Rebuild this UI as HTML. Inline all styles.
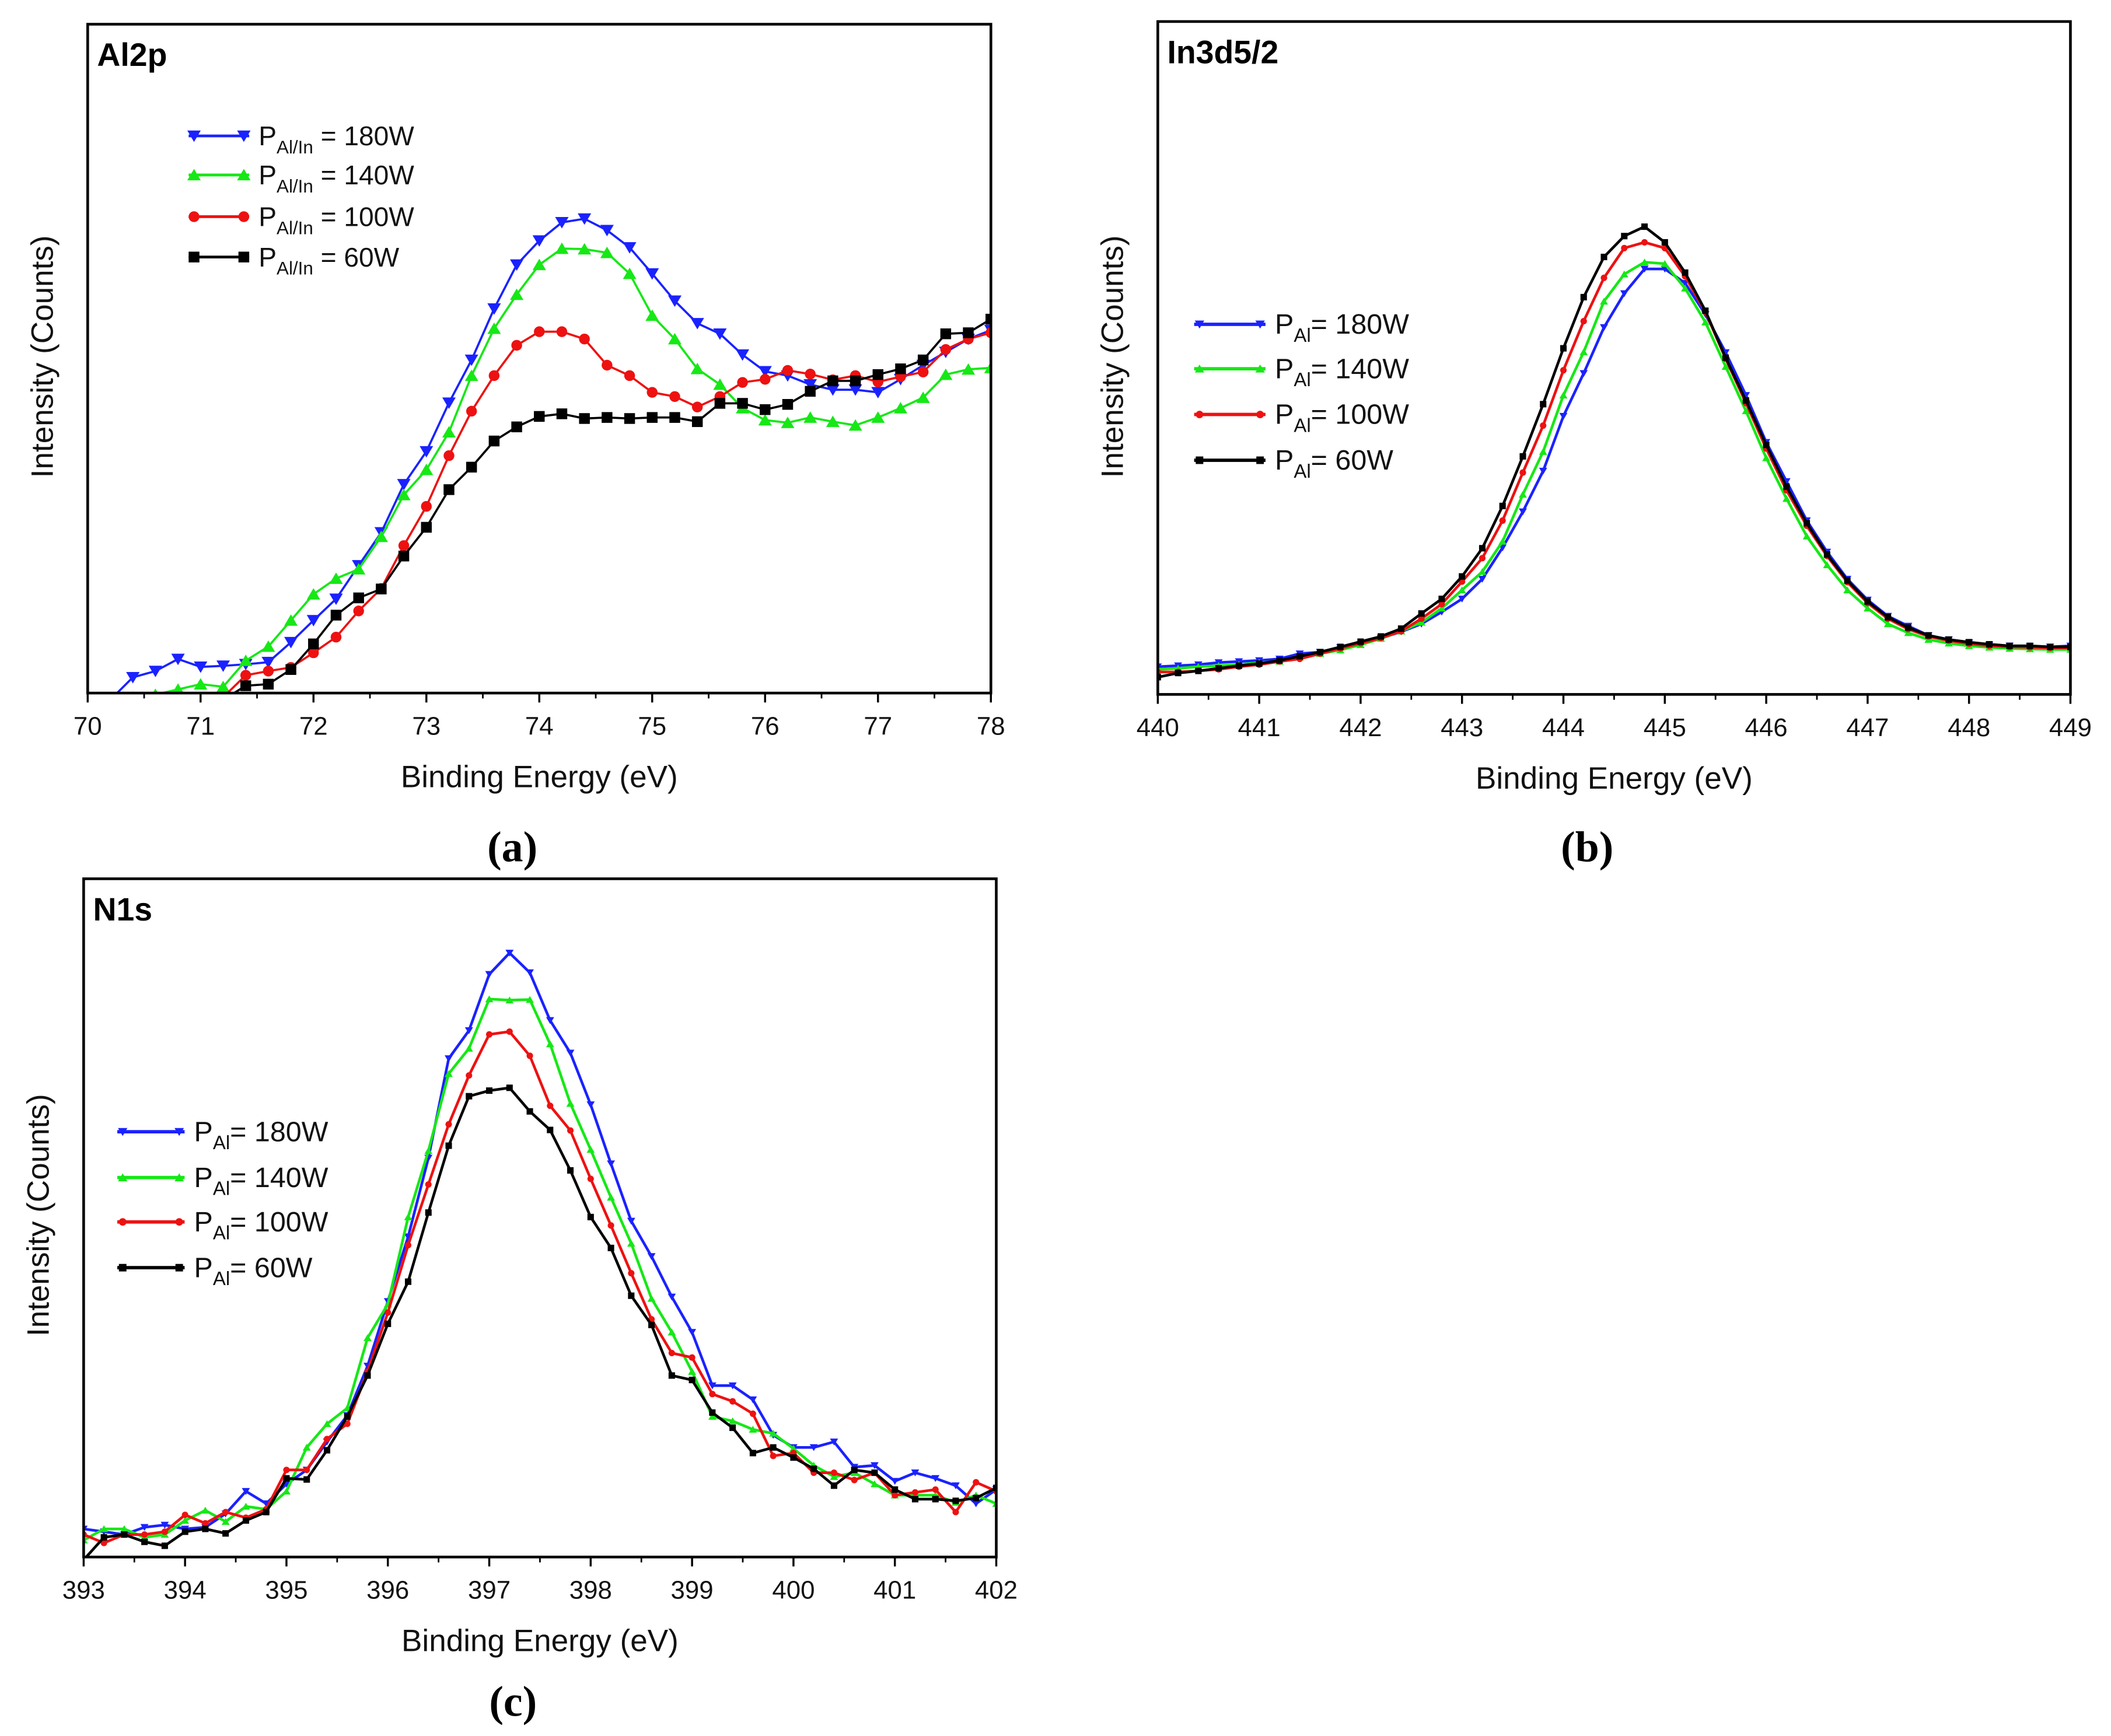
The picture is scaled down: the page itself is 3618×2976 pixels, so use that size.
<!DOCTYPE html>
<html><head><meta charset="utf-8">
<style>
html,body{margin:0;padding:0;background:#fff;}
svg{display:block;font-family:"Liberation Sans",Arial,sans-serif;}
.cap{font-family:"Liberation Serif",serif;}
</style></head>
<body>
<svg id="fig" width="3618" height="2976" viewBox="0 0 1568 1290" xmlns="http://www.w3.org/2000/svg">
<rect width="1568" height="1290" fill="#fff"/>
</svg>
<script>
// ---------- Panel (a) Al2p ----------
const aX = [70,70.2,70.4,70.6,70.8,71,71.2,71.4,71.6,71.8,72,72.2,72.4,72.6,72.8,73,73.2,73.4,73.6,73.8,74,74.2,74.4,74.6,74.8,75,75.2,75.4,75.6,75.8,76,76.2,76.4,76.6,76.8,77,77.2,77.4,77.6,77.8,78];
const a180 = [-33,-13,30,42,65,50,52,55,59,97,139,180,244,307,399,462,555,637,735,819,865,900,907,885,852,802,750,707,687,647,615,607,590,580,580,575,600,627,652,677,694];
const a140 = [-18,-13,-8,-3,7,17,12,62,89,139,189,219,237,299,379,427,499,607,697,762,819,850,849,842,802,722,677,620,590,545,522,517,527,519,512,527,545,565,609,619,622];
const a100 = [-23,-23,-23,-23,-23,-23,-8,34,42,49,77,107,157,200,282,357,454,539,607,665,691,691,677,627,607,575,567,547,567,594,600,617,610,599,607,595,605,614,657,677,689];
const a60 = [-23,-23,-23,-23,-23,-23,-13,14,17,45,94,149,182,199,262,317,389,432,482,509,529,534,525,527,525,527,527,519,554,554,542,552,577,597,597,609,620,637,687,689,715];
const aTicks = [70,71,72,73,74,75,76,77,78];

// ---------- Panel (b) In3d5/2 ----------
const bX = [440,440.2,440.4,440.6,440.8,441,441.2,441.4,441.6,441.8,442,442.2,442.4,442.6,442.8,443,443.2,443.4,443.6,443.8,444,444.2,444.4,444.6,444.8,445,445.2,445.4,445.6,445.8,446,446.2,446.4,446.6,446.8,447,447.2,447.4,447.6,447.8,448,448.2,448.4,448.6,448.8,449];
const b180 = [53,55,57,61,63,65,68,78,81,90,96,108,120,135,158,183,221,281,350,428,533,615,703,768,815,815,788,728,655,573,483,408,333,273,221,181,150,131,113,105,99,95,93,92,91,93];
const b140 = [48,50,53,55,57,61,63,71,78,85,95,107,121,138,165,200,235,293,383,465,573,656,753,805,828,825,778,713,628,543,453,375,303,248,200,165,135,118,105,98,93,90,88,87,86,86];
const b100 = [43,43,45,48,53,57,63,68,78,88,98,108,121,145,173,216,261,333,425,515,621,715,798,855,866,855,801,733,643,558,471,391,323,265,215,175,145,125,111,103,97,93,91,90,89,89];
const b60 = [33,41,45,50,55,59,65,73,81,91,101,111,126,155,183,226,280,361,456,556,663,761,838,878,896,866,808,735,645,563,478,398,328,268,218,178,148,128,113,105,100,96,93,93,91,91];
const bTicks = [440,441,442,443,444,445,446,447,448,449];

// ---------- Panel (c) N1s ----------
const cX = [393,393.2,393.4,393.6,393.8,394,394.2,394.4,394.6,394.8,395,395.2,395.4,395.6,395.8,396,396.2,396.4,396.6,396.8,397,397.2,397.4,397.6,397.8,398,398.2,398.4,398.6,398.8,399,399.2,399.4,399.6,399.8,400,400.2,400.4,400.6,400.8,401,401.2,401.4,401.6,401.8,402];
const c180 = [50,45,40,53,57,50,53,77,117,95,130,155,205,252,340,455,570,710,887,937,1037,1075,1040,955,897,805,700,598,535,463,400,305,305,280,217,195,195,205,160,163,135,150,140,127,95,120];
const c140 = [30,50,50,35,40,65,83,63,90,85,117,195,237,265,390,450,605,723,860,905,993,991,992,913,807,725,640,558,460,400,330,250,242,227,220,193,163,143,150,130,110,110,110,97,110,95];
const c100 = [40,25,40,40,45,75,60,80,70,85,155,155,210,237,330,435,555,663,770,857,930,935,892,803,759,673,590,505,423,363,355,290,277,255,180,185,150,150,137,150,110,115,120,80,133,117];
const c60 = [-5,35,40,27,20,45,50,42,65,80,140,138,190,250,323,415,490,613,732,820,830,835,793,760,688,605,550,465,413,323,315,257,230,185,195,177,157,127,155,150,120,103,103,100,105,123];
const cTicks = [393,394,395,396,397,398,399,400,401,402];

const NS = "http://www.w3.org/2000/svg";
const svg = document.getElementById('fig');
function mk(tag, attrs, parent){
  const e = document.createElementNS(NS, tag);
  for (const k in attrs) e.setAttribute(k, attrs[k]);
  (parent||svg).appendChild(e);
  return e;
}
function marker(g, shape, x, y, s, color){
  let e;
  if (shape==='down') e = mk('polygon',{points:`${x-s},${y-s*0.8} ${x+s},${y-s*0.8} ${x},${y+s*0.9}`,fill:color},g);
  else if (shape==='up') e = mk('polygon',{points:`${x-s},${y+s*0.8} ${x+s},${y+s*0.8} ${x},${y-s*0.9}`,fill:color},g);
  else if (shape==='circle') e = mk('circle',{cx:x,cy:y,r:s*0.8,fill:color},g);
  else e = mk('rect',{x:x-s*0.8,y:y-s*0.8,width:s*1.6,height:s*1.6,fill:color},g);
  return e;
}

const colors = ['#1a22ff','#16e816','#ee1111','#000000'];
const shapes = ['down','up','circle','square'];
const names = ['180w','140w','100w','60w'];

function panel(p){
  const g = mk('g',{});
  
  
  const sx = v => p.L + (v - p.xmin)/(p.xmax - p.xmin)*(p.R - p.L);
  const sy = v => p.B - v/p.ymax*(p.B - p.T);
  const clip = mk('clipPath',{id:'clip-'+p.id},g);
  mk('rect',{x:p.L,y:p.T,width:p.R-p.L,height:p.B-p.T},clip);
  const plot = mk('g',{'clip-path':`url(#clip-${p.id})`},g);
  p.series.forEach((ys,i)=>{
    const sg = mk('g',{},plot);
    
    
    const pts = ys.map((v,j)=>sx(p.xs[j]).toFixed(2)+','+sy(v).toFixed(2)).join(' ');
    mk('polyline',{points:pts,fill:'none',stroke:colors[i],'stroke-width':p.lw},sg);
    ys.forEach((v,j)=>{
      const m = marker(sg, shapes[i], sx(p.xs[j]), sy(v), p.ms, colors[i]);
      
      
    });
  });
  const fr = mk('rect',{x:p.L,y:p.T,width:p.R-p.L,height:p.B-p.T,fill:'none',stroke:'#000','stroke-width':2},g);
  
  
  const ax = mk('g',{},g);
  
  
  p.ticks.forEach((t,k)=>{
    mk('line',{x1:sx(t),x2:sx(t),y1:p.B,y2:p.B+7,stroke:'#000','stroke-width':1.5},ax);
    if (k < p.ticks.length-1) mk('line',{x1:sx(t+0.5),x2:sx(t+0.5),y1:p.B,y2:p.B+4,stroke:'#000','stroke-width':1.2},ax);
    const tl = mk('text',{x:sx(t),y:p.B+31,'font-size':19,'text-anchor':'middle',fill:'#111'},ax);
    tl.textContent = t;
    
    
  });
  const xl = mk('text',{x:(p.L+p.R)/2,y:p.B+70,'font-size':23,'text-anchor':'middle',fill:'#111'},g);
  xl.textContent = 'Binding Energy (eV)';
  
  
  const yl = mk('text',{x:0,y:0,'font-size':23,'text-anchor':'middle',fill:'#111',transform:`translate(${p.L-26},${p.ylY}) rotate(-90)`},g);
  yl.textContent = 'Intensity (Counts)';
  
  
  const tt = mk('text',{x:p.L+7,y:p.T+31,'font-size':24,'font-weight':'bold',fill:'#000'},g);
  tt.textContent = p.title;
  
  
  const cp = mk('text',{x:(p.L+p.R)/2-20,y:p.capY,'font-size':32,'font-weight':'600','text-anchor':'middle',fill:'#000',class:'cap'},g);
  cp.textContent = p.cap;
  
  
  const lg = mk('g',{},g);
  
  
  p.legY.forEach((y,i)=>{
    const le = mk('g',{},lg);
    
    
    mk('line',{x1:p.legX,x2:p.legX+p.legW,y1:y,y2:y,stroke:colors[i],'stroke-width':p.lw+0.5},le);
    marker(le, shapes[i], p.legX+4, y, p.lms, colors[i]);
    marker(le, shapes[i], p.legX+p.legW-4, y, p.lms, colors[i]);
    const t = mk('text',{x:p.legX+p.legW+7,y:y+7,'font-size':p.lfs,fill:'#111'},le);
    t.appendChild(document.createTextNode('P'));
    const sub = mk('tspan',{dy:6,'font-size':p.lfs*0.68},t);
    sub.textContent = p.sub;
    const rest = mk('tspan',{dy:-6},t);
    rest.textContent = p.legText[i];
  });
}

panel({id:'al2p',title:'Al2p',cap:'(a)',L:65,R:736,T:18,B:515,xmin:70,xmax:78,ymax:1279,
  xs:aX,series:[a180,a140,a100,a60],ticks:aTicks,lw:1.6,ms:5,lms:5,ylY:265,capY:640,
  legX:140,legW:45,legY:[101,130,161,191],lfs:20,sub:'Al/In',
  legText:[' = 180W',' = 140W',' = 100W',' = 60W']});
panel({id:'in3d',title:'In3d5/2',cap:'(b)',L:860,R:1538,T:16,B:516,xmin:440,xmax:449,ymax:1289,
  xs:bX,series:[b180,b140,b100,b60],ticks:bTicks,lw:2,ms:3,lms:3.5,ylY:265,capY:640,
  legX:887,legW:53,legY:[241,274,308,342],lfs:21,sub:'Al',
  legText:['= 180W','= 140W','= 100W','= 60W']});
panel({id:'n1s',title:'N1s',cap:'(c)',L:62,R:740,T:653,B:1157,xmin:393,xmax:402,ymax:1207,
  xs:cX,series:[c180,c140,c100,c60],ticks:cTicks,lw:2,ms:3,lms:3.5,ylY:903,capY:1275,
  legX:87,legW:50,legY:[841,875,908,942],lfs:21,sub:'Al',
  legText:['= 180W','= 140W','= 100W','= 60W']});
</script>
</body></html>
